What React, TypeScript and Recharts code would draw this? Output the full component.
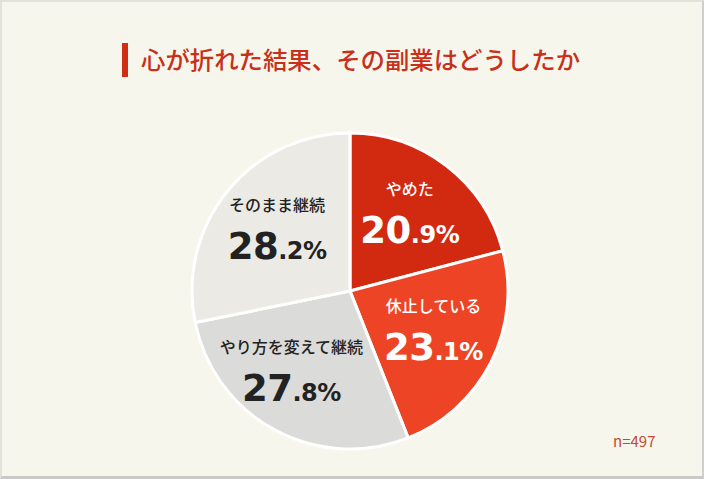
import { PieChart, Pie, Cell } from 'recharts'

const categories = ['やめた', '休止している', 'やり方を変えて継続', 'そのまま継続']
const shares = [20.9, 23.1, 27.8, 28.2]
const sampleLabel = 'n=497'
const title = '心が折れた結果、その副業はどうしたか'

const sliceColors = ['#d22a10', '#ee4426', '#dbdbd9', '#ebeae5']
const labelColors = ['#ffffff', '#ffffff', '#222222', '#222222']
// small hand tweaks so the labels sit like the original
const labelNudge = [
  [0, -4],
  [-4, -9],
  [-12, -10],
  [3, -4],
]

const RAD = Math.PI / 180
const FONT = '"Noto Sans CJK JP", "Noto Sans", sans-serif'
const NUM_FONT = '"DejaVu Sans", sans-serif'

const chartData = categories.map((name, i) => ({ name, value: shares[i] }))

function SliceLabel(props: any) {
  const { cx, cy, midAngle, outerRadius, index } = props
  const r = outerRadius * 0.62
  const x = cx + r * Math.cos(-midAngle * RAD) + labelNudge[index][0]
  const y = cy + r * Math.sin(-midAngle * RAD) + labelNudge[index][1]
  const [whole, frac] = shares[index].toFixed(1).split('.')
  const color = labelColors[index]
  return (
    <g>
      <text
        x={x}
        y={y - 21}
        textAnchor='middle'
        dominantBaseline='central'
        fill={color}
        fontSize={16}
        fontWeight={500}
        fontFamily={FONT}
      >
        {categories[index]}
      </text>
      <text
        x={x}
        y={y + 34}
        textAnchor='middle'
        fill={color}
        fontFamily={NUM_FONT}
        fontWeight={700}
        letterSpacing={-0.5}
      >
        <tspan fontSize={37}>{whole}</tspan>
        <tspan fontSize={24}>.{frac}%</tspan>
      </text>
    </g>
  )
}

export default function App() {
  return (
    <div
      style={{
        position: 'absolute',
        left: 0,
        top: 0,
        width: 704,
        height: 479,
        boxSizing: 'border-box',
        background: '#f7f6ec',
        borderTop: '2px solid #e2e2dc',
        borderLeft: '2px solid #e2e2dc',
        borderRight: '2px solid #cfcfcb',
        borderBottom: '3px solid #c9c9c5',
        fontFamily: FONT,
      }}
    >
      <div
        style={{
          position: 'absolute',
          left: 120,
          top: 41,
          width: 6,
          height: 34,
          background: '#cf2d14',
        }}
      />
      <div
        style={{
          position: 'absolute',
          left: 139,
          top: 39,
          fontSize: 24.4,
          lineHeight: '36px',
          color: '#c8301a',
          fontWeight: 500,
          whiteSpace: 'nowrap',
        }}
      >
        {title}
      </div>
      <div
        style={{
          position: 'absolute',
          left: 611,
          top: 429,
          fontSize: 15,
          lineHeight: '20px',
          color: '#c24a32',
        }}
      >
        {sampleLabel}
      </div>
      <div style={{ position: 'absolute', left: -2, top: -2 }}>
        <PieChart
          width={704}
          height={479}
          margin={{ top: 0, right: 0, bottom: 0, left: 0 }}
        >
          <Pie
            data={chartData}
            dataKey='value'
            nameKey='name'
            cx={350}
            cy={291}
            outerRadius={158}
            startAngle={90}
            endAngle={-270}
            stroke='#ffffff'
            strokeWidth={3}
            label={SliceLabel}
            labelLine={false}
            isAnimationActive={false}
          >
            {chartData.map((d, i) => (
              <Cell key={d.name} fill={sliceColors[i]} />
            ))}
          </Pie>
        </PieChart>
      </div>
    </div>
  )
}
